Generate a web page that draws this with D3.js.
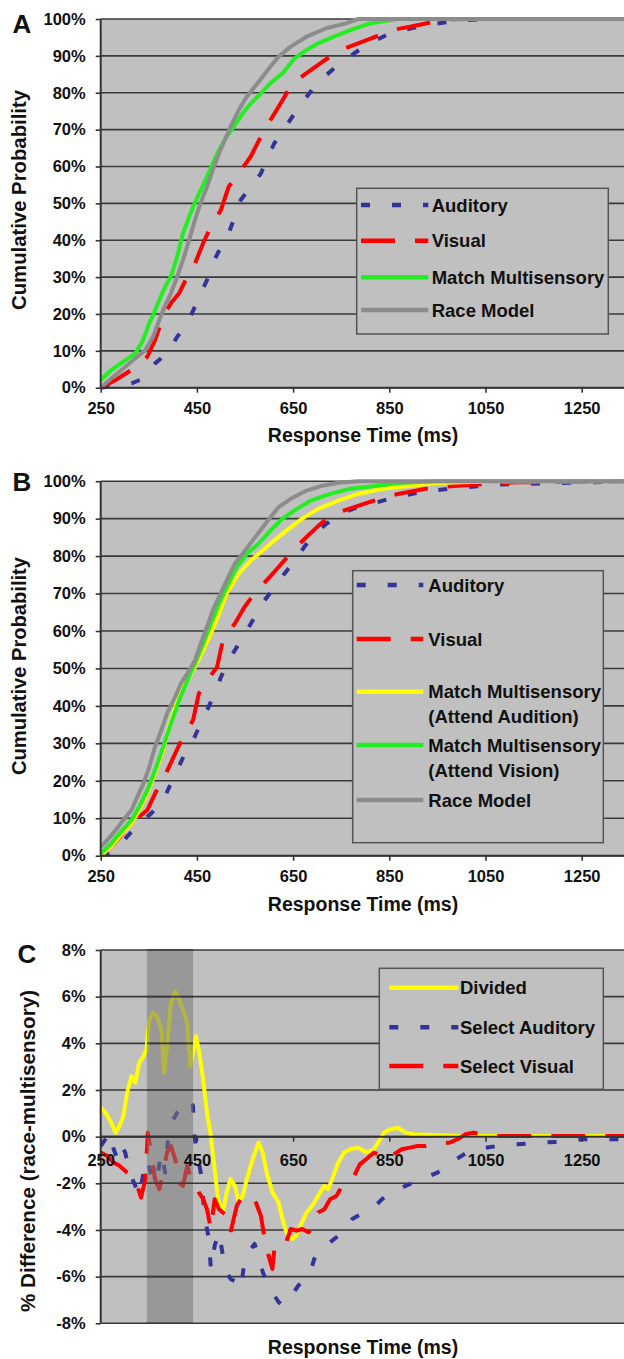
<!DOCTYPE html>
<html>
<head>
<meta charset="utf-8">
<script src="https://cdn.jsdelivr.net/npm/d3@7"></script>
<style>
	body{ margin:0; background:#fff; }
	svg text{ font-family:"Liberation Sans", Arial, sans-serif; font-weight:bold; fill:#111; }
</style>
</head>
<body>
<svg id="fig" width="624" height="1359"></svg>

<script>
// ---- data (response time in ms, value in %) ----
var xTicks = [250, 450, 650, 850, 1050, 1250];
var cdfTicks = [0, 10, 20, 30, 40, 50, 60, 70, 80, 90, 100];
var diffTicks = [-8, -6, -4, -2, 0, 2, 4, 6, 8];
var shadeWindow = [346, 442];

// panel A
var auditoryA = [[250,0],[281,0.5],[314,1.2],[339,2.5],[363,6.6],[388,9.3],[409,13.8],[430,17.5],[446,22],[458,25.6],[471,29.2],[483,33.7],[500,38.2],[516,41.9],[529,46.4],[541,50.9],[562,54.5],[583,58.1],[595,61.8],[611,66.3],[632,70.3],[653,74.4],[673,78],[694,81.6],[719,84.8],[748,88],[777,90.7],[810,93.4],[851,96.1],[926,98.4],[992,99.5],[1046,100],[1350,100]];
var visualA = [[250,0],[281,2.1],[314,4.8],[347,8.4],[363,12.9],[380,19.3],[396,22.9],[413,25.6],[430,30.1],[446,33.7],[463,39.2],[479,43.7],[500,48.2],[516,54.5],[537,58.1],[562,62.7],[583,68.1],[603,72.6],[624,77.1],[649,82.6],[678,85.3],[711,88.4],[748,91.6],[777,93],[814,94.8],[855,97],[893,97.9],[926,98.8],[967,99.9],[1033,100],[1350,100]];
var matchA = [[250,2.1],[272,4.8],[297,7.1],[322,9.3],[338,12.9],[351,17.5],[359,19.7],[372,23.8],[384,27.4],[396,30.1],[409,35.5],[421,41.9],[434,46.4],[446,50.2],[458,53.6],[471,57.2],[483,60.8],[496,64.5],[512,68.1],[529,71.2],[545,74.4],[562,77.1],[583,79.8],[603,82.6],[628,85.3],[653,89.3],[678,91.6],[702,93.4],[735,95.2],[769,97],[810,98.8],[868,100],[1350,100]];
var raceA = [[250,0],[272,2.5],[297,5.2],[322,8],[343,10.2],[359,13.8],[372,18.4],[380,21.1],[396,25.6],[409,30.1],[421,34.6],[434,40.1],[446,45.5],[458,50.2],[471,54.5],[483,59],[496,63.6],[508,67.2],[520,70.8],[537,75.3],[554,79],[570,81.6],[587,84.4],[603,87.1],[620,89.8],[645,92.5],[678,95.2],[719,97.5],[760,98.8],[785,100],[1350,100]];

// panel B
var auditoryB = [[250,0],[281,1.3],[305,5.1],[330,8.6],[355,11.3],[380,14.8],[396,19.3],[409,22.8],[425,27.3],[442,30.8],[458,35.3],[471,38.8],[487,43.3],[500,47.7],[516,52.2],[533,55.7],[554,60.2],[570,63.7],[591,68.2],[611,71.7],[632,75.3],[653,78.8],[673,82.4],[694,86],[719,88.6],[748,91.3],[785,93.1],[826,94.4],[860,95.7],[917,97.1],[975,98],[1075,99.1],[1350,100]];
var visualB = [[250,0],[272,2.4],[293,5.5],[314,8.6],[330,10.4],[347,12.2],[363,16.6],[384,21.5],[405,27.3],[421,31.7],[442,36.2],[454,43.3],[471,46.8],[492,50.4],[504,57.5],[529,62],[549,66.4],[574,70.8],[595,73.5],[620,77.1],[653,82],[678,85.1],[707,88.6],[735,91.3],[777,93.1],[818,94.8],[868,96.6],[926,98],[992,98.8],[1058,99.3],[1116,99.7],[1350,100]];
var matchAuditionB = [[250,0],[272,2.4],[289,5.1],[314,8.6],[330,12.2],[347,16.6],[363,22],[380,28.2],[392,34.4],[405,39.7],[417,44.2],[430,46.8],[446,50.4],[463,54.8],[479,59.3],[496,64.6],[512,70],[537,75.3],[562,78.8],[587,81.5],[611,84.2],[636,86.8],[669,90],[702,92.6],[744,94.8],[785,96.6],[835,98],[893,98.8],[951,99.5],[1075,100],[1350,100]];
var matchVisionB = [[250,0.6],[272,3.3],[289,6],[314,9.5],[330,13.1],[347,17.5],[363,22.8],[380,29.1],[396,35.3],[413,41.5],[430,46.8],[446,51.3],[463,56.6],[479,62],[496,67.3],[512,71.7],[533,77.1],[554,80.6],[578,83.3],[603,86.8],[628,90],[653,92.2],[686,94.8],[727,96.6],[769,98],[826,98.8],[868,99.5],[951,100],[1350,100]];
var raceB = [[250,2.4],[264,4.2],[281,6.8],[297,9.5],[314,12.2],[326,15.7],[339,19.3],[351,23.7],[363,29.1],[376,33.5],[388,38],[405,42.4],[417,46],[430,48.6],[446,52.2],[458,56.6],[471,61.1],[483,65.5],[496,69.1],[512,73.5],[529,78],[545,80.6],[566,84.2],[587,87.7],[603,90.4],[620,93.1],[645,95.3],[678,97.5],[711,98.8],[744,99.6],[785,100],[1350,100]];

// panel C (race - multisensory)
var dividedC = [[250,1.24],[260,1.03],[272,0.6],[281,0.17],[289,0.46],[297,0.88],[305,1.88],[314,2.59],[322,2.31],[330,3.16],[339,3.45],[345,3.73],[351,5.01],[359,5.3],[367,5.16],[376,4.59],[382,2.74],[388,3.87],[396,5.73],[405,6.23],[413,5.87],[421,5.44],[430,4.87],[436,3.02],[442,3.59],[448,4.3],[454,3.73],[463,2.45],[471,1.03],[479,0.03],[487,-1.4],[494,-2.68],[504,-3.25],[512,-2.39],[520,-1.82],[529,-2.11],[537,-2.82],[545,-2.54],[554,-1.82],[566,-0.97],[578,-0.26],[587,-0.68],[595,-1.54],[607,-2.39],[620,-2.82],[628,-3.53],[636,-4.1],[649,-4.39],[657,-4.25],[665,-3.82],[678,-3.25],[690,-2.96],[702,-2.54],[715,-2.11],[723,-2.25],[731,-1.82],[744,-1.11],[756,-0.68],[769,-0.54],[785,-0.47],[802,-0.68],[818,-0.54],[831,-0.11],[839,0.17],[851,0.31],[868,0.38],[884,0.17],[901,0.1],[950,0.06],[1000,0.03],[1116,0.03],[1350,0.03]];
var selectAuditoryC = [[250,-0.4],[260,-0.11],[268,0.17],[277,-0.54],[285,-0.97],[293,-0.4],[301,-0.68],[310,-1.54],[322,-2.11],[330,-2.54],[339,-1.54],[347,-0.97],[359,-1.96],[367,-1.82],[376,-0.68],[384,-1.54],[392,0.31],[401,0.74],[409,1.03],[421,1.31],[434,1.6],[442,1.31],[444,0.17],[450,-0.68],[458,-1.54],[467,-3.53],[475,-4.39],[479,-5.67],[487,-4.67],[496,-4.1],[504,-5.1],[512,-5.81],[520,-6.1],[533,-6.24],[541,-6.52],[549,-5.38],[562,-4.81],[570,-4.6],[578,-5.1],[587,-5.81],[599,-6.38],[611,-6.81],[620,-7.09],[628,-7.24],[636,-6.95],[649,-6.74],[661,-6.38],[673,-6.1],[686,-5.81],[694,-5.24],[702,-4.96],[715,-4.67],[727,-4.53],[744,-4.25],[760,-3.96],[773,-3.53],[785,-3.39],[802,-3.25],[818,-3.03],[835,-2.68],[851,-2.39],[868,-2.25],[884,-2.11],[901,-1.96],[917,-1.89],[934,-1.68],[950,-1.54],[967,-1.32],[983,-1.04],[1000,-0.83],[1017,-0.61],[1033,-0.54],[1074,-0.4],[1116,-0.33],[1157,-0.26],[1199,-0.23],[1256,-0.11],[1350,-0.11]];
var selectVisualC = [[250,-0.68],[264,-0.83],[277,-1.11],[289,-1.25],[305,-1.54],[318,-1.68],[326,-2.11],[334,-2.61],[343,-1.82],[348,0.17],[355,-0.68],[363,-1.82],[372,-2.25],[380,-1.54],[388,-0.68],[396,-0.4],[405,-0.97],[413,-1.97],[421,-2.11],[430,-1.25],[438,-1.82],[446,-1.97],[454,-2.39],[463,-2.68],[471,-3.11],[479,-3.96],[487,-2.68],[496,-3.11],[504,-3.25],[512,-3.39],[520,-4.1],[533,-2.96],[545,-2.54],[558,-2.54],[570,-2.68],[583,-3.39],[591,-4.39],[599,-5.1],[607,-5.67],[611,-4.81],[620,-4.67],[632,-4.74],[645,-3.96],[657,-4.03],[669,-3.96],[682,-4.1],[694,-3.82],[702,-3.25],[715,-3.11],[727,-2.68],[740,-2.54],[752,-2.11],[764,-1.82],[777,-1.68],[789,-1.18],[802,-0.97],[818,-0.68],[835,-0.83],[847,-0.97],[860,-0.75],[876,-0.54],[893,-0.47],[909,-0.4],[926,-0.4],[942,-0.33],[959,-0.26],[975,-0.26],[992,-0.11],[1008,0.1],[1025,0.17],[1041,0.1],[1066,0.03],[1350,0.03]];

// ---- styles ----
var BLUE = "#333399", RED = "#ff0000", GREEN = "#22ee22", YELLOW = "#ffff00", GRAY = "#8c8c8c";
var DOTS = "9,22", DASH = "34,20";

var svg = d3.select("#fig");
var plotL = 100.7, plotR = 624;
var x = d3.scaleLinear().domain([250, 1350]).range([100.7, 629.8]);

function drawPanel(p){
	var g = svg.append("g");
	var y = d3.scaleLinear().domain(p.yDomain).range([p.bottom, p.top]);
	var clipId = "clip" + p.letter;

	g.append("clipPath").attr("id", clipId)
		.append("rect").attr("x", plotL).attr("y", p.top - 4).attr("width", plotR - plotL).attr("height", p.bottom - p.top + 8);

	g.append("rect").attr("x", plotL).attr("y", p.top).attr("width", plotR - plotL).attr("height", p.bottom - p.top).attr("fill", "#c0c0c0");

	function grid(sel){
		sel.selectAll("line.grid").data(p.yTicks).enter().append("line")
			.attr("class", "grid")
			.attr("x1", plotL).attr("x2", plotR)
			.attr("y1", function(d){ return y(d); }).attr("y2", function(d){ return y(d); })
			.attr("stroke", "#3a3a3a").attr("stroke-width", 1.6);
	}
	grid(g);

	var line = d3.line().x(function(d){ return x(d[0]); }).y(function(d){ return y(d[1]); });
	var lines = g.append("g").attr("clip-path", "url(#" + clipId + ")");
	p.series.forEach(function(s){
		lines.append("path").datum(s.data)
			.attr("d", line)
			.attr("fill", "none")
			.attr("stroke", s.color)
			.attr("stroke-width", 4)
			.attr("stroke-linejoin", "round")
			.attr("stroke-dasharray", s.dash || null);
	});

	if (p.shade){
		var sx0 = x(p.shade[0]), sx1 = x(p.shade[1]);
		g.append("rect").attr("x", sx0).attr("y", p.top).attr("width", sx1 - sx0).attr("height", p.bottom - p.top)
			.attr("fill", "#777").attr("fill-opacity", 0.55);
		g.append("clipPath").attr("id", clipId + "s")
			.append("rect").attr("x", sx0).attr("y", p.top - 2).attr("width", sx1 - sx0).attr("height", p.bottom - p.top + 4);
		grid(g.append("g").attr("clip-path", "url(#" + clipId + "s)"));
	}

	// y axis
	var ya = g.append("g").attr("transform", "translate(" + plotL + ",0)")
		.call(d3.axisLeft(y).tickValues(p.yTicks).tickSize(5).tickPadding(10).tickFormat(function(d){ return d + "%"; }));
	ya.select(".domain").remove();
	ya.selectAll(".tick line").attr("stroke", "#333").attr("stroke-width", 1.6);
	ya.selectAll(".tick text").style("font-size", "16.5px");
	g.append("line").attr("x1", plotL).attr("x2", plotL).attr("y1", p.top).attr("y2", p.bottom)
		.attr("stroke", "#333").attr("stroke-width", 2);

	// x axis
	var xa = g.append("g").attr("transform", "translate(0," + y(p.xAxisAt) + ")")
		.call(d3.axisBottom(x).tickValues(xTicks).tickSize(5).tickPadding(p.xPad).tickFormat(d3.format("d")));
	xa.select(".domain").remove();
	xa.selectAll(".tick line").attr("stroke", "#333").attr("stroke-width", 1.6);
	xa.selectAll(".tick text").style("font-size", "16.5px");
	g.append("line").attr("x1", plotL).attr("x2", plotR).attr("y1", y(p.xAxisAt)).attr("y2", y(p.xAxisAt))
		.attr("stroke", "#333").attr("stroke-width", 2);

	// titles
	g.append("text").attr("x", p.letterX).attr("y", p.letterY).style("font-size", "26px").text(p.letter);
	g.append("text").attr("x", 363).attr("y", p.xTitleY).attr("text-anchor", "middle")
		.style("font-size", "19.5px").text("Response Time (ms)");
	g.append("text").attr("transform", "translate(" + p.yTitle.x + "," + p.yTitle.y + ") rotate(-90)")
		.attr("text-anchor", "middle").attr("dy", "0.35em")
		.attr("textLength", p.yTitle.len).attr("lengthAdjust", "spacingAndGlyphs")
		.style("font-size", p.yTitle.size + "px").text(p.yTitle.text);

	// legend
	var L = p.legend;
	var lg = g.append("g");
	lg.append("rect").attr("x", L.x0).attr("y", L.y0).attr("width", L.x1 - L.x0).attr("height", L.y1 - L.y0)
		.attr("fill", "#c0c0c0").attr("stroke", "#555").attr("stroke-width", 1.5);
	L.items.forEach(function(it){
		var s = p.series[it.s];
		lg.append("line").attr("x1", L.s0).attr("x2", L.s1).attr("y1", it.y).attr("y2", it.y)
			.attr("stroke", s.color).attr("stroke-width", 4.5).attr("stroke-dasharray", s.dash || null);
		it.text.forEach(function(t, i){
			lg.append("text").attr("x", L.tx).attr("y", it.y + i * 25 + 6.6)
				.style("font-size", "18.5px").text(t);
		});
	});
}

drawPanel({
	letter: "A", letterX: 12.5, letterY: 33,
	top: 19, bottom: 387.7, yDomain: [0, 100], yTicks: cdfTicks, xAxisAt: 0, xPad: 10,
	xTitleY: 442.3,
	yTitle: { x: 19, y: 200, len: 220, size: 20, text: "Cumulative Probability" },
	series: [
		{ data: auditoryA, color: BLUE, dash: DOTS },
		{ data: visualA, color: RED, dash: DASH },
		{ data: matchA, color: GREEN },
		{ data: raceA, color: GRAY }
	],
	legend: { x0: 356.7, y0: 188.3, x1: 608.3, y1: 334, s0: 361, s1: 428.3, tx: 431.7,
		items: [
			{ s: 0, y: 205, text: ["Auditory"] },
			{ s: 1, y: 240.7, text: ["Visual"] },
			{ s: 2, y: 277.3, text: ["Match Multisensory"] },
			{ s: 3, y: 310, text: ["Race Model"] }
		] }
});

drawPanel({
	letter: "B", letterX: 12.5, letterY: 491,
	top: 481.2, bottom: 855.7, yDomain: [0, 100], yTicks: cdfTicks, xAxisAt: 0, xPad: 10,
	xTitleY: 911,
	yTitle: { x: 19, y: 666, len: 218, size: 20, text: "Cumulative Probability" },
	series: [
		{ data: auditoryB, color: BLUE, dash: DOTS },
		{ data: visualB, color: RED, dash: DASH },
		{ data: matchAuditionB, color: YELLOW },
		{ data: matchVisionB, color: GREEN },
		{ data: raceB, color: GRAY }
	],
	legend: { x0: 352.7, y0: 570.7, x1: 603.3, y1: 842.7, s0: 356.7, s1: 423.3, tx: 428.3,
		items: [
			{ s: 0, y: 585, text: ["Auditory"] },
			{ s: 1, y: 639, text: ["Visual"] },
			{ s: 2, y: 691.7, text: ["Match Multisensory", "(Attend Audition)"] },
			{ s: 3, y: 745, text: ["Match Multisensory", "(Attend Vision)"] },
			{ s: 4, y: 800, text: ["Race Model"] }
		] }
});

drawPanel({
	letter: "C", letterX: 17.5, letterY: 963,
	top: 950, bottom: 1323.3, yDomain: [-8, 8], yTicks: diffTicks, xAxisAt: 0, xPad: 13,
	xTitleY: 1354, shade: shadeWindow,
	yTitle: { x: 28, y: 1151, len: 322, size: 20.5, text: "% Difference (race-multisensory)" },
	series: [
		{ data: dividedC, color: YELLOW },
		{ data: selectAuditoryC, color: BLUE, dash: DOTS },
		{ data: selectVisualC, color: RED, dash: DASH }
	],
	legend: { x0: 379.3, y0: 968.3, x1: 603.3, y1: 1089.3, s0: 389.3, s1: 458.3, tx: 460,
		items: [
			{ s: 0, y: 987.7, text: ["Divided"] },
			{ s: 1, y: 1027.3, text: ["Select Auditory"] },
			{ s: 2, y: 1066, text: ["Select Visual"] }
		] }
});
</script>
</body>
</html>
